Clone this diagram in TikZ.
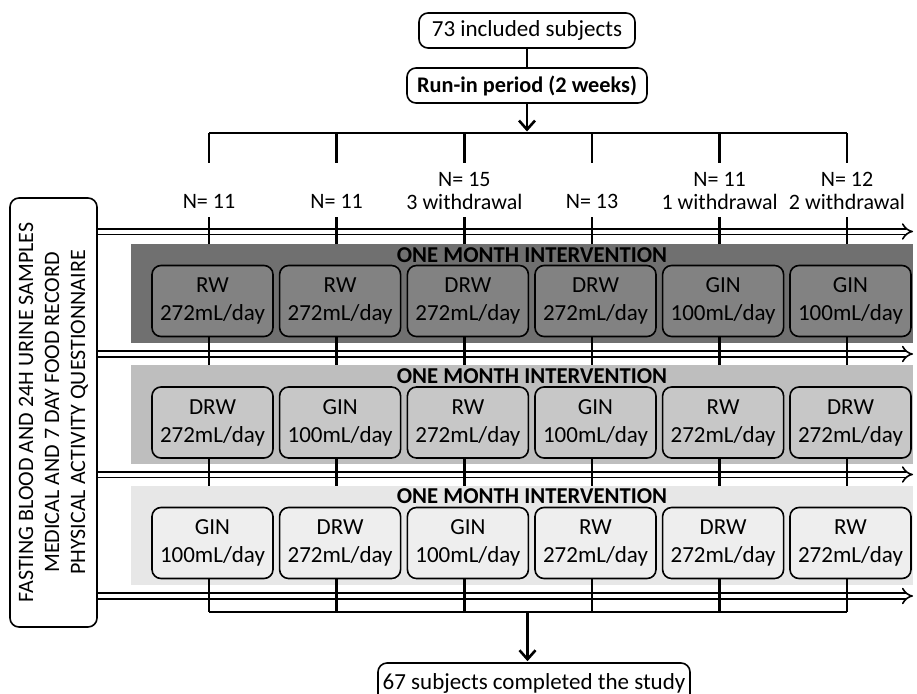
\documentclass[tikz,border=0pt]{standalone}
\usepackage{fontspec}
\setmainfont{Carlito}
\usetikzlibrary{arrows.meta,calc}
\definecolor{bandA}{RGB}{112,112,112}
\definecolor{boxA}{RGB}{130,130,130}
\definecolor{bandB}{RGB}{190,190,190}
\definecolor{boxB}{RGB}{199,199,199}
\definecolor{bandC}{RGB}{231,231,231}
\definecolor{boxC}{RGB}{238,238,238}
\begin{document}
\begin{tikzpicture}[x=1pt,y=-1pt,
  rbox/.style={draw, line width=1.6pt, rounded corners=9pt, inner sep=0pt, align=center, font=\fontsize{23}{28}\selectfont},
  armbox/.style={rbox, minimum width=121pt, minimum height=71pt},
  band/.style={inner sep=0pt, minimum width=782pt, minimum height=99pt, anchor=north west},
  dbl/.style={double=white, double distance=4pt, line width=1.6pt, -{Implies}},
  bar/.style={line width=2.6pt},
  lbl/.style={inner sep=0pt, align=center, font=\fontsize{22}{23}\selectfont},
  hd/.style={inner sep=0pt, font=\bfseries\fontsize{22.7}{24}\selectfont},
  tip/.style={-{Straight Barb[length=9pt,width=16pt]}}]
\clip (0,0) rectangle (917,693);
\useasboundingbox (0,0) rectangle (917,693);

% top boxes
\node[rbox, minimum width=216pt, minimum height=35pt] (incl) at (527,30.5) {73 included subjects};
\node[rbox, minimum width=240pt, minimum height=35pt, font=\bfseries\fontsize{22.3}{26}\selectfont] (run) at (527,85.5) {Run-in period (2 weeks)};
\draw[bar] (incl) -- (run);

% columns
\foreach \i/\x in {1/209,2/336.6,3/464.4,4/592,5/719.6,6/847}{
  \coordinate (c\i) at (\x,133);
  \coordinate (e\i) at (\x,612);
}
\draw[bar] (c1) -- (c6);
\draw[bar, tip] (run.south) -- ($(run.south |- c1)+(0,-1.5)$);
\foreach \i in {1,...,6}{ \draw[bar] (c\i) -- ++(0,30); }

% labels
\node[lbl] (n1) at (209,201) {N= 11};
\node[lbl] (n2) at (336.6,201) {N= 11};
\node[lbl] (n3) at (464.4,191) {N= 15\\3 withdrawal};
\node[lbl] (n4) at (592,201) {N= 13};
\node[lbl] (n5) at (719.6,191) {N= 11\\1 withdrawal};
\node[lbl] (n6) at (847,191) {N= 12\\2 withdrawal};

% left box
\node[rbox, rotate=90, minimum width=429pt, minimum height=87pt, font=\fontsize{22}{26}\selectfont] (left) at (53.5,412.5)
  {FASTING BLOOD AND 24H URINE SAMPLES\\MEDICAL AND 7 DAY FOOD RECORD\\PHYSICAL ACTIVITY QUESTIONNAIRE};

% bands
\node[band, fill=bandA] (bandA) at (131,244) {};
\node[band, fill=bandB] (bandB) at (131,365) {};
\node[band, fill=bandC] (bandC) at (131,485.5) {};

% double arrows
\foreach \k/\y in {1/231.5,2/354,3/474.5,4/596}{
  \coordinate (r\k) at (913,\y);
  \draw[dbl] (left.south |- r\k) -- (r\k);
}

% headings
\node[hd] (hA) at (532,255) {ONE MONTH INTERVENTION};
\node[hd] (hB) at (532,376) {ONE MONTH INTERVENTION};
\node[hd] (hC) at (532,496) {ONE MONTH INTERVENTION};

% vertical connectors
\foreach \i in {1,...,6}{
  \draw[bar] ($(c\i)+(0,84)$) -- (c\i |- bandA.north);
}

% arm boxes
\foreach \i/\x/\t/\d in {1/212.5/RW/272,2/340.1/RW/272,3/467.9/DRW/272,4/595.5/DRW/272,5/723.1/GIN/100,6/850.5/GIN/100}{
  \node[armbox, fill=boxA] (a\i) at (\x,301) {\t\\\d mL/day};
}
\foreach \i/\x/\t/\d in {1/212.5/DRW/272,2/340.1/GIN/100,3/467.9/RW/272,4/595.5/GIN/100,5/723.1/RW/272,6/850.5/DRW/272}{
  \node[armbox, fill=boxB] (b\i) at (\x,422.5) {\t\\\d mL/day};
}
\foreach \i/\x/\t/\d in {1/212.5/GIN/100,2/340.1/DRW/272,3/467.9/GIN/100,4/595.5/RW/272,5/723.1/DRW/272,6/850.5/RW/272}{
  \node[armbox, fill=boxC] (d\i) at (\x,543) {\t\\\d mL/day};
}

\foreach \i in {1,...,6}{
  \draw[bar] (c\i |- a\i.south) -- (c\i |- bandB.north);
  \draw[bar] (c\i |- b\i.south) -- (c\i |- bandC.north);
  \draw[bar] (c\i |- d\i.south) -- (e\i);
}
\draw[bar] (e1) -- (e6);

% final box
\node[rbox, minimum width=312pt, minimum height=40pt, fill=white] (fin) at (534,683) {67 subjects completed the study};
\coordinate (bm) at (527.5,612);
\draw[bar, tip] (bm) -- ($(bm |- fin.north)+(0,-1)$);
\end{tikzpicture}
\end{document}
